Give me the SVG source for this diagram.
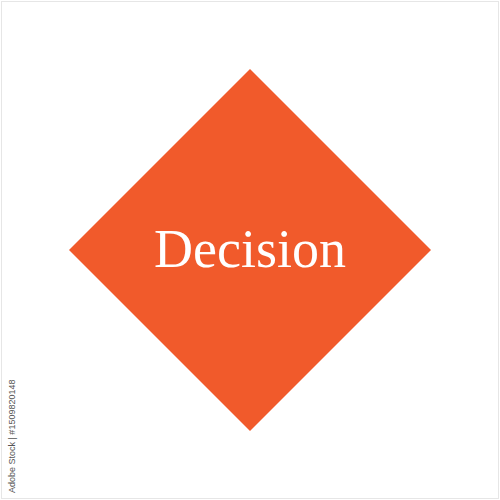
<svg xmlns="http://www.w3.org/2000/svg" width="500" height="500" viewBox="0 0 500 500">
<style>
.label{font-family:"Liberation Serif","DejaVu Serif",serif;fill:#ffffff;}
.credit{font-family:"Liberation Sans","DejaVu Sans",sans-serif;fill:#555555;}
</style>
<rect x="0" y="0" width="500" height="500" fill="#ffffff"/>
<rect x="1.5" y="1.5" width="497" height="497" fill="none" stroke="#e6e6e6" stroke-width="1"/>
<g id="decision">
<polygon points="250,69 431,250 250,431 69,250" fill="#f15a2b"/>
<text class="label" x="250" y="267" font-size="54" text-anchor="middle">Decision</text>
</g>
<g id="connectors"></g>
<text class="credit" x="15" y="493" font-size="9" transform="rotate(-90 15 493)">Adobe Stock | #1509820148</text>
</svg>
